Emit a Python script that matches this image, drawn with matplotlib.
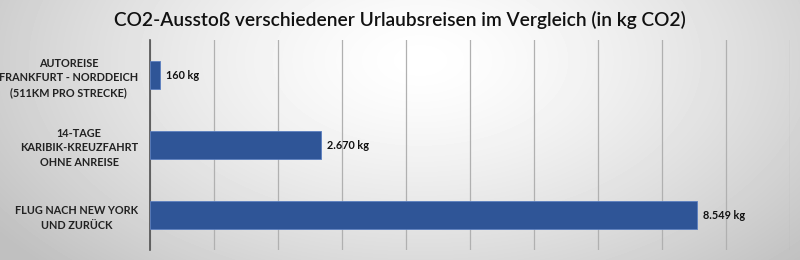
import numpy as np
import matplotlib.pyplot as plt

# Data
categories = [
    "AUTOREISE\nFRANKFURT - NORDDEICH\n(511KM PRO STRECKE)",
    "14-TAGE\nKARIBIK-KREUZFAHRT\nOHNE ANREISE",
    "FLUG NACH NEW YORK\nUND ZURÜCK",
]
values = [160, 2670, 8549]
value_labels = ["160 kg", "2.670 kg", "8.549 kg"]

plt.rcParams['font.family'] = ['Lato', 'DejaVu Sans']

fig = plt.figure(figsize=(8, 2.6), dpi=100)

# Background radial gradient
bg = fig.add_axes([0, 0, 1, 1], zorder=0)
yy, xx = np.mgrid[0:260, 0:800]
r = np.sqrt(((xx - 420) / 520.0) ** 2 + ((yy - 60) / 300.0) ** 2)
shade = 1.0 - 0.25 * np.clip(r, 0, 1) ** 1.4
bg.imshow(shade, cmap='gray', vmin=0, vmax=1, aspect='auto', extent=[0, 800, 260, 0])
bg.set_xlim(0, 800)
bg.set_ylim(260, 0)
bg.axis('off')

ax = fig.add_axes([150 / 800, 10 / 260, 640 / 800, 210 / 260], zorder=1)
ax.patch.set_alpha(0)

y = np.arange(len(categories))
ax.barh(y, values, height=0.39, color='#2f5597', edgecolor='#5b7fc0', linewidth=0.6, zorder=3)
ax.set_ylim(len(categories) - 0.5, -0.5)
ax.set_xlim(0, 10000)
ax.set_xticks(np.arange(0, 10001, 1000))
ax.set_xticklabels([])
ax.tick_params(axis='x', length=0)
ax.tick_params(axis='y', length=0, pad=8.5)
ax.set_yticks(y)
ax.set_yticklabels(categories, fontsize=7.8, fontweight='bold', color='#222222',
                   linespacing=1.4)
for lbl in ax.get_yticklabels():
    lbl.set_multialignment('center')
ax.grid(axis='x', color='#b0b0b0', linewidth=0.9, zorder=0)
for s in ['top', 'right', 'bottom']:
    ax.spines[s].set_visible(False)
ax.spines['left'].set_color('#505050')
ax.spines['left'].set_linewidth(1.2)

for yi, v, t in zip(y, values, value_labels):
    ax.text(v + 90, yi, t, va='center', ha='left', fontsize=7.8, fontweight='bold', color='#111111')

fig.text(0.5, 0.925, "CO2-Ausstoß verschiedener Urlaubsreisen im Vergleich (in kg CO2)",
         ha='center', va='center', fontsize=13.8, fontweight='semibold', color='#111111')

fig.savefig('out.png', dpi=100)
